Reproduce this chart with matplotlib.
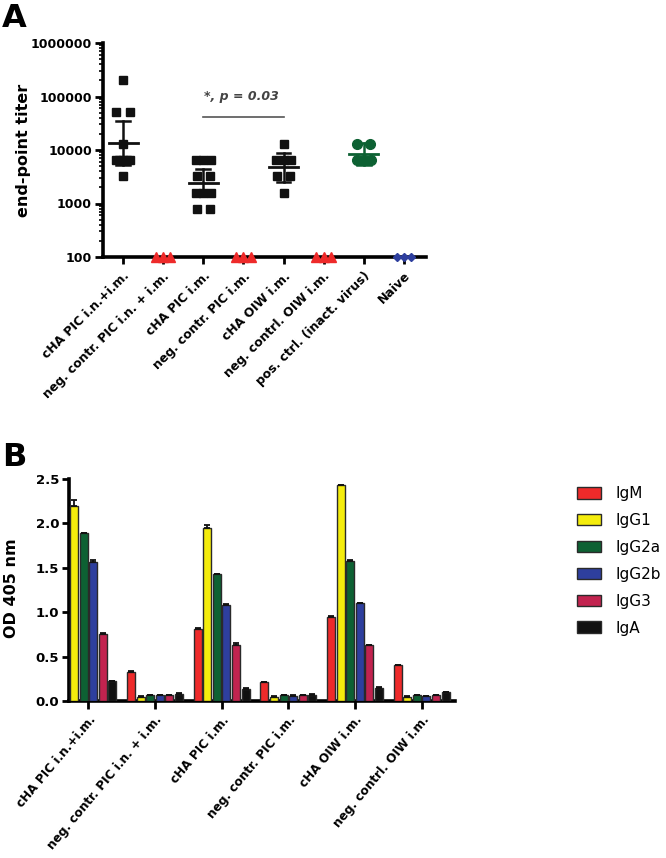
import numpy as np
import matplotlib
matplotlib.use("Agg")
import matplotlib.pyplot as plt
from matplotlib.ticker import LogLocator, NullFormatter, FixedLocator, FixedFormatter

plt.rcParams['font.family'] = ['DejaVu Sans']

# ---------------- Panel A data (end-point titers) ----------------
groups_a = ["cHA PIC i.n.+i.m.", "neg. contr. PIC i.n. + i.m.", "cHA PIC i.m.",
            "neg. contr. PIC i.m.", "cHA OIW i.m.", "neg. contrl. OIW i.m.",
            "pos. ctrl. (inact. virus)", "Naive"]
titer_cha_pic_in_im = [204800, 51200, 51200, 12800, 6400, 6400, 6400, 6400, 6400, 3200]
titer_neg_pic_in_im = [100, 100, 100]
titer_cha_pic_im = [6400, 6400, 6400, 3200, 3200, 1600, 1600, 1600, 800, 800]
titer_neg_pic_im = [100, 100, 100]
titer_cha_oiw_im = [12800, 6400, 6400, 6400, 3200, 3200, 1600]
titer_neg_oiw_im = [100, 100, 100]
titer_pos_ctrl = [12800, 12800, 6400, 6400, 6400]
titer_naive = [100, 100, 100]
titers = [titer_cha_pic_in_im, titer_neg_pic_in_im, titer_cha_pic_im, titer_neg_pic_im,
          titer_cha_oiw_im, titer_neg_oiw_im, titer_pos_ctrl, titer_naive]
y_ticks_a = [100, 1000, 10000, 100000, 1000000]
y_ticklabels_a = ["100", "1000", "10000", "100000", "1000000"]

# ---------------- Panel B data (OD 405 nm) ----------------
groups_b = groups_a[:6]
isotypes = ["IgM", "IgG1", "IgG2a", "IgG2b", "IgG3", "IgA"]
od_igm = [0.98, 0.33, 0.81, 0.21, 0.95, 0.40]
od_igg1 = [2.20, 0.05, 1.95, 0.05, 2.43, 0.05]
od_igg2a = [1.89, 0.065, 1.43, 0.065, 1.58, 0.065]
od_igg2b = [1.56, 0.065, 1.08, 0.06, 1.10, 0.055]
od_igg3 = [0.75, 0.065, 0.63, 0.065, 0.63, 0.065]
od_iga = [0.22, 0.08, 0.14, 0.07, 0.15, 0.10]
err_igm = [0.04, 0.005, 0.01, 0.005, 0.005, 0.005]
err_igg1 = [0.06, 0.005, 0.03, 0.005, 0.005, 0.005]
err_igg2a = [0.005, 0.005, 0.005, 0.005, 0.005, 0.005]
err_igg2b = [0.03, 0.005, 0.01, 0.005, 0.005, 0.005]
err_igg3 = [0.02, 0.005, 0.02, 0.005, 0.005, 0.005]
err_iga = [0.01, 0.005, 0.01, 0.005, 0.01, 0.005]
od_values = [od_igm, od_igg1, od_igg2a, od_igg2b, od_igg3, od_iga]
od_errors = [err_igm, err_igg1, err_igg2a, err_igg2b, err_igg3, err_iga]
y_ticks_b = [0.0, 0.5, 1.0, 1.5, 2.0, 2.5]

# ---------------- styles ----------------
RED = "#ee2a2a"
GREEN = "#0d6133"
BLUE = "#2e3f9e"
markers_a = ['s', '^', 's', '^', 's', '^', 'o', 'D']
colors_a = ['#111111', RED, '#111111', RED, '#111111', RED, GREEN, BLUE]
msize_a = [6.2, 6.5, 6.2, 6.5, 6.2, 6.5, 7.0, 4.5]
show_mean = [True, False, True, False, True, False, True, False]
iso_colors = [RED, "#f4ec0c", "#0d6133", "#2e3f9e", "#c2234f", "#111111"]
t_crit = {4: 2.776, 5: 2.571, 6: 2.447, 7: 2.365, 8: 2.306, 9: 2.262}

fig = plt.figure(figsize=(6.66, 8.58), dpi=100)
W, H = 666, 858


def px_axes(x0, y0, x1, y1):
    return fig.add_axes([x0 / W, 1 - y1 / H, (x1 - x0) / W, (y1 - y0) / H])


# ================= Panel A =================
axA = px_axes(103, 43, 426, 257)
axA.set_yscale('log')
axA.set_ylim(100, 1e6)
axA.set_xlim(-0.5, 7.55)

for i, vals in enumerate(titers):
    vals = np.array(vals, dtype=float)
    xs = np.zeros(len(vals))
    for v in np.unique(vals):
        idx = np.where(vals == v)[0]
        n = len(idx)
        if n > 1:
            w = min(0.33 * (n - 1), 0.36)
            xs[idx] = np.linspace(-w / 2, w / 2, n)
    axA.plot(i + xs, vals, linestyle='none', marker=markers_a[i], color=colors_a[i],
             ms=msize_a[i], mec=colors_a[i], clip_on=False, zorder=4)
    if show_mean[i]:
        lv = np.log10(vals)
        m = lv.mean()
        ci = t_crit[len(lv) - 1] * lv.std(ddof=1) / np.sqrt(len(lv))
        c = colors_a[i]
        axA.plot([i - 0.36, i + 0.36], [10 ** m] * 2, color=c, lw=2, zorder=5)
        axA.plot([i, i], [10 ** (m - ci), 10 ** (m + ci)], color=c, lw=1.8, zorder=5)
        for e in (m - ci, m + ci):
            axA.plot([i - 0.17, i + 0.17], [10 ** e] * 2, color=c, lw=1.8, zorder=5)

for s in ['top', 'right']:
    axA.spines[s].set_visible(False)
for s in ['left', 'bottom']:
    axA.spines[s].set_linewidth(2.6)
axA.yaxis.set_major_locator(FixedLocator(y_ticks_a))
axA.yaxis.set_major_formatter(FixedFormatter(y_ticklabels_a))
axA.yaxis.set_minor_locator(LogLocator(base=10, subs=np.arange(2, 10)))
axA.yaxis.set_minor_formatter(NullFormatter())
axA.tick_params(axis='y', which='major', length=6, width=2, labelsize=9, pad=2)
axA.tick_params(axis='y', which='minor', length=3, width=1.2)
axA.set_xticks(range(len(groups_a)))
axA.set_xticklabels(groups_a, rotation=45, ha='right', va='top', rotation_mode='anchor',
                    fontsize=8.9, fontweight='bold')
axA.tick_params(axis='x', length=5, width=2, pad=4)
for lab in axA.get_yticklabels():
    lab.set_fontweight('bold')

# significance bar
axA.plot([2, 4], [41000, 41000], color='#555555', lw=1.2)
axA.text(2.95, 100000, "*, p = 0.03", ha='center', va='center', fontsize=9,
         fontweight='bold', fontstyle='italic', color='#444444')

fig.text(24 / W, 1 - 150 / H, "end-point titer", rotation=90, ha='center', va='center',
         fontsize=11.5, fontweight='bold')
fig.text(2 / W, 1 - 3 / H, "A", ha='left', va='top', fontsize=23, fontweight='bold')

# ================= Panel B =================
axB = px_axes(69, 479, 455, 701)
nb = len(isotypes)
slot = 0.1445
bw = 0.12
xg = np.arange(len(groups_b))
for k in range(nb):
    off = (k - (nb - 1) / 2) * slot
    axB.bar(xg + off, od_values[k], width=bw, color=iso_colors[k], edgecolor='#2a2a2a',
            linewidth=1.0, label=isotypes[k], zorder=3)
    axB.errorbar(xg + off, od_values[k], yerr=[np.zeros(len(xg)), od_errors[k]],
                 fmt='none', ecolor='#111111', elinewidth=1.3, capsize=2.5, capthick=1.3,
                 zorder=4)
axB.set_xlim(-0.29, 5.5)
axB.set_ylim(0, 2.5)
axB.set_yticks(y_ticks_b)
axB.set_yticklabels([f"{v:.1f}" for v in y_ticks_b], fontsize=9.5, fontweight='bold')
axB.set_xticks(xg)
axB.set_xticklabels(groups_b, rotation=50, ha='right', va='top', rotation_mode='anchor',
                    fontsize=8.7, fontweight='bold')
for s in ['top', 'right']:
    axB.spines[s].set_visible(False)
for s in ['left', 'bottom']:
    axB.spines[s].set_linewidth(2.6)
axB.tick_params(axis='y', length=5, width=2, pad=2)
axB.tick_params(axis='x', length=6, width=2, pad=3)

leg = axB.legend(loc='upper left', bbox_to_anchor=(577 / W, 1 - 486 / H),
                 bbox_transform=fig.transFigure, frameon=False, fontsize=11,
                 handlelength=1.6, handleheight=0.8, labelspacing=0.78, handletextpad=0.95,
                 borderpad=0, borderaxespad=0)
fig.text(12 / W, 1 - 588 / H, "OD 405 nm", rotation=90, ha='center', va='center',
         fontsize=11.5, fontweight='bold')
fig.text(2 / W, 1 - 442 / H, "B", ha='left', va='top', fontsize=23, fontweight='bold')

fig.savefig("out.png", dpi=100)
